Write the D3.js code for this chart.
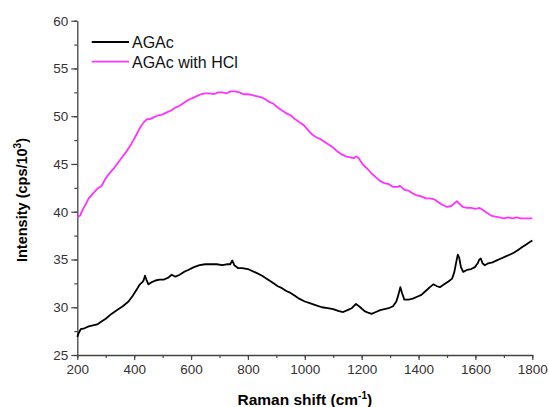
<!DOCTYPE html>
<html><head><meta charset="utf-8">
<script src="https://cdn.jsdelivr.net/npm/d3@7"></script>
<style>body{margin:0;background:#fff}svg{display:block}</style>
</head><body>
<svg id="c" width="549" height="407"></svg>
<script>
const seriesNames = ["AGAc", "AGAc with HCl"];
const seriesColors = ["#000000", "#ff33ff"];
const xTicks = [200,400,600,800,1000,1200,1400,1600,1800];
const yTicks = [25,30,35,40,45,50,55,60];

const agacX = [200,205,212,225,240,255,270,285,300,320,340,360,380,395,410,420,428,433,438,443,450,460,475,490,505,520,532,545,560,575,590,610,630,650,670,690,710,725,738,745,752,765,780,800,815,830,850,870,890,905,920,935,950,965,980,1000,1020,1040,1060,1080,1100,1120,1135,1150,1165,1180,1195,1210,1225,1235,1250,1265,1280,1295,1310,1322,1330,1336,1342,1350,1365,1380,1395,1410,1425,1440,1452,1465,1475,1490,1505,1518,1526,1533,1538,1543,1549,1557,1570,1585,1598,1608,1614,1619,1625,1633,1645,1660,1675,1690,1705,1720,1735,1750,1765,1780,1790,1800];
const agacY = [26.9,27.3,27.7,27.8,28.0,28.1,28.2,28.5,28.8,29.3,29.7,30.1,30.6,31.2,31.9,32.4,32.6,32.8,33.3,32.9,32.4,32.6,32.8,32.9,32.9,33.1,33.4,33.2,33.4,33.7,33.9,34.2,34.4,34.5,34.5,34.5,34.4,34.5,34.5,34.9,34.4,34.1,34.1,34.0,33.8,33.6,33.3,32.9,32.5,32.2,32.0,31.7,31.5,31.2,30.9,30.6,30.4,30.2,30.0,29.9,29.8,29.6,29.5,29.7,29.9,30.35,30.0,29.6,29.4,29.3,29.5,29.7,29.8,29.9,30.1,30.6,31.4,32.1,31.5,30.8,30.8,30.9,31.1,31.3,31.7,32.1,32.4,32.2,32.1,32.4,32.7,33.0,33.7,34.8,35.5,35.2,34.2,33.7,33.9,34.0,34.2,34.6,35.0,35.1,34.6,34.4,34.6,34.7,34.9,35.1,35.3,35.5,35.7,36.0,36.3,36.6,36.8,37.0];

const hclX = [200,210,220,230,240,255,270,285,300,315,330,345,360,375,390,405,415,425,435,445,455,470,485,500,515,530,545,560,575,590,605,620,635,650,665,680,695,710,725,740,755,770,785,800,815,830,845,860,875,890,905,920,935,950,965,980,995,1010,1025,1040,1055,1070,1085,1100,1115,1130,1145,1160,1172,1180,1190,1205,1220,1235,1250,1265,1280,1295,1310,1325,1335,1350,1365,1380,1395,1410,1425,1440,1455,1470,1485,1500,1515,1527,1535,1545,1555,1570,1585,1600,1615,1625,1640,1655,1670,1685,1700,1715,1730,1745,1760,1775,1790,1800];
const hclY = [39.4,39.6,40.3,40.8,41.4,41.9,42.4,42.7,43.5,44.1,44.6,45.2,45.8,46.4,47.1,47.9,48.5,49.0,49.4,49.7,49.7,49.9,50.1,50.2,50.4,50.6,50.9,51.1,51.4,51.7,51.9,52.1,52.3,52.4,52.4,52.3,52.5,52.5,52.4,52.6,52.6,52.5,52.3,52.3,52.2,52.1,52.0,51.8,51.5,51.3,50.9,50.6,50.3,50.1,49.7,49.4,49.1,48.6,48.1,47.8,47.6,47.3,47.0,46.7,46.3,46.0,45.8,45.7,45.6,45.8,45.6,44.9,44.5,44.0,43.6,43.2,43.0,42.9,42.6,42.6,42.7,42.3,42.2,41.9,41.7,41.6,41.4,41.4,41.3,41.0,40.7,40.5,40.6,40.9,41.1,40.8,40.5,40.4,40.4,40.3,40.4,40.2,39.9,39.6,39.5,39.4,39.3,39.4,39.3,39.4,39.3,39.3,39.3,39.3];

const svg = d3.select("#c");
const L = 77.3, R = 532.3, T = 20.7, B = 355;
const x = d3.scaleLinear().domain([200,1800]).range([L,R]);
const y = d3.scaleLinear().domain([25,60]).range([B,T]);
const axisCol = "#444";
const font = "'Liberation Sans', Arial, sans-serif";

// minor ticks
const xMinor = d3.range(200,1801,100);
const yMinor = d3.range(25,60.01,2.5);
const gxm = svg.append("g").attr("transform",`translate(0,${B})`)
  .call(d3.axisBottom(x).tickValues(xMinor).tickSize(3).tickFormat(""));
const gym = svg.append("g").attr("transform",`translate(${L},0)`)
  .call(d3.axisLeft(y).tickValues(yMinor).tickSize(3).tickFormat(""));
[gxm,gym].forEach(g=>{g.select(".domain").remove();g.selectAll("line").attr("stroke",axisCol).attr("stroke-width",1.2);});

const gx = svg.append("g").attr("transform",`translate(0,${B})`)
  .call(d3.axisBottom(x).tickValues(xTicks).tickSize(5).tickSizeOuter(0).tickPadding(4).tickFormat(d3.format("d")));
const gy = svg.append("g").attr("transform",`translate(${L},0)`)
  .call(d3.axisLeft(y).tickValues(yTicks).tickSize(6).tickSizeOuter(0).tickPadding(3).tickFormat(d3.format("d")));
[gx,gy].forEach(g=>{
  g.select(".domain").attr("stroke",axisCol).attr("stroke-width",1.3);
  g.selectAll("line").attr("stroke",axisCol).attr("stroke-width",1.2);
  g.selectAll("text").attr("fill","#333").style("font-family",font).style("font-size","13.5px");
});

const line = d3.line().x(d=>x(d[0])).y(d=>y(d[1]));
const data = [d3.zip(agacX,agacY), d3.zip(hclX,hclY)];
data.forEach((d,i)=>{
  svg.append("path").datum(d).attr("d",line).attr("fill","none")
    .attr("stroke",seriesColors[i]).attr("stroke-width",1.8).attr("stroke-linejoin","round");
});

// legend
seriesNames.forEach((n,i)=>{
  const ly = 42 + i*19.7;
  svg.append("line").attr("x1",91.7).attr("x2",129).attr("y1",ly).attr("y2",ly)
    .attr("stroke",seriesColors[i]).attr("stroke-width",1.8);
  svg.append("text").attr("x",132).attr("y",ly+6).text(n)
    .style("font-family",font).style("font-size","16px").attr("fill","#111");
});

// axis titles
svg.append("text").attr("x",(L+R)/2).attr("y",405).attr("text-anchor","middle")
  .style("font-family",font).style("font-size","15.5px").style("font-weight","bold")
  .html("Raman shift (cm<tspan dy='-6' font-size='10px'>-1</tspan><tspan dy='6'>)</tspan>");
svg.append("text").attr("transform","translate(27,200) rotate(-90)").attr("text-anchor","middle")
  .style("font-family",font).style("font-size","14.5px").style("font-weight","bold")
  .html("Intensity (cps/10<tspan dy='-6' font-size='10px'>3</tspan><tspan dy='6'>)</tspan>");
</script>
</body></html>
